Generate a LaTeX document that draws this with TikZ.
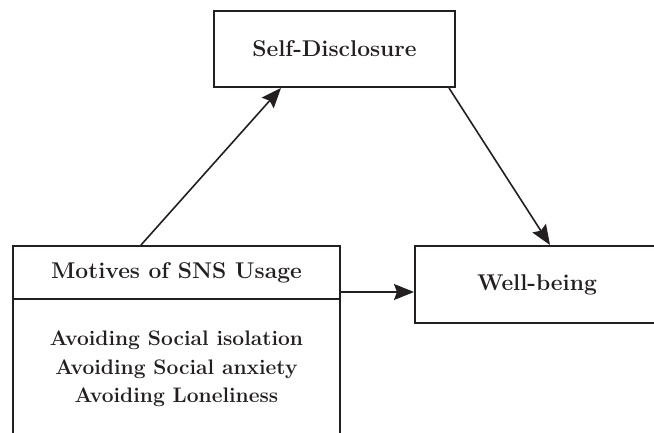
\documentclass[tikz,border=0pt]{standalone}
\usetikzlibrary{arrows.meta,calc}
\definecolor{ink}{HTML}{231F20}
\tikzset{
  box/.style={draw=ink, line width=2pt, rectangle, inner sep=0pt, align=center,
    font=\fontsize{22.8}{28.5}\selectfont\bfseries, text=ink},
  bodybox/.style={box, font=\fontsize{21}{28.5}\selectfont\bfseries},
  conn/.style={draw=ink, line width=1.6pt, -{Stealth[length=20pt,width=16pt,inset=3pt]}}
}
\begin{document}
\begin{tikzpicture}[x=1pt,y=-1pt]
\useasboundingbox (0,0) rectangle (654,433);
\clip (0,0) rectangle (654,433);
\node[box, minimum width=241pt, minimum height=76pt] (sd) at (334.5,49) {Self-Disclosure};
\node[box, minimum width=244pt, minimum height=77pt] (wb) at (537,284.5) {Well-being};
\node[box, minimum width=327pt, minimum height=53pt] (mh) at (176.5,272.5) {Motives of SNS Usage};
\node[bodybox, minimum width=327pt, minimum height=140pt] (mb) at (176.5,369) {Avoiding Social isolation\\Avoiding Social anxiety\\Avoiding Loneliness};
\draw[conn] ([xshift=129pt]mh.north west) -- ([xshift=68pt]sd.south west);
\draw[conn] ([xshift=-7pt]sd.south east) -- ([xshift=136pt]wb.north west);
\draw[conn] ([yshift=-19.5pt]mh.east) -- ([yshift=-19.5pt]mh.east -| wb.west);
\end{tikzpicture}
\end{document}
